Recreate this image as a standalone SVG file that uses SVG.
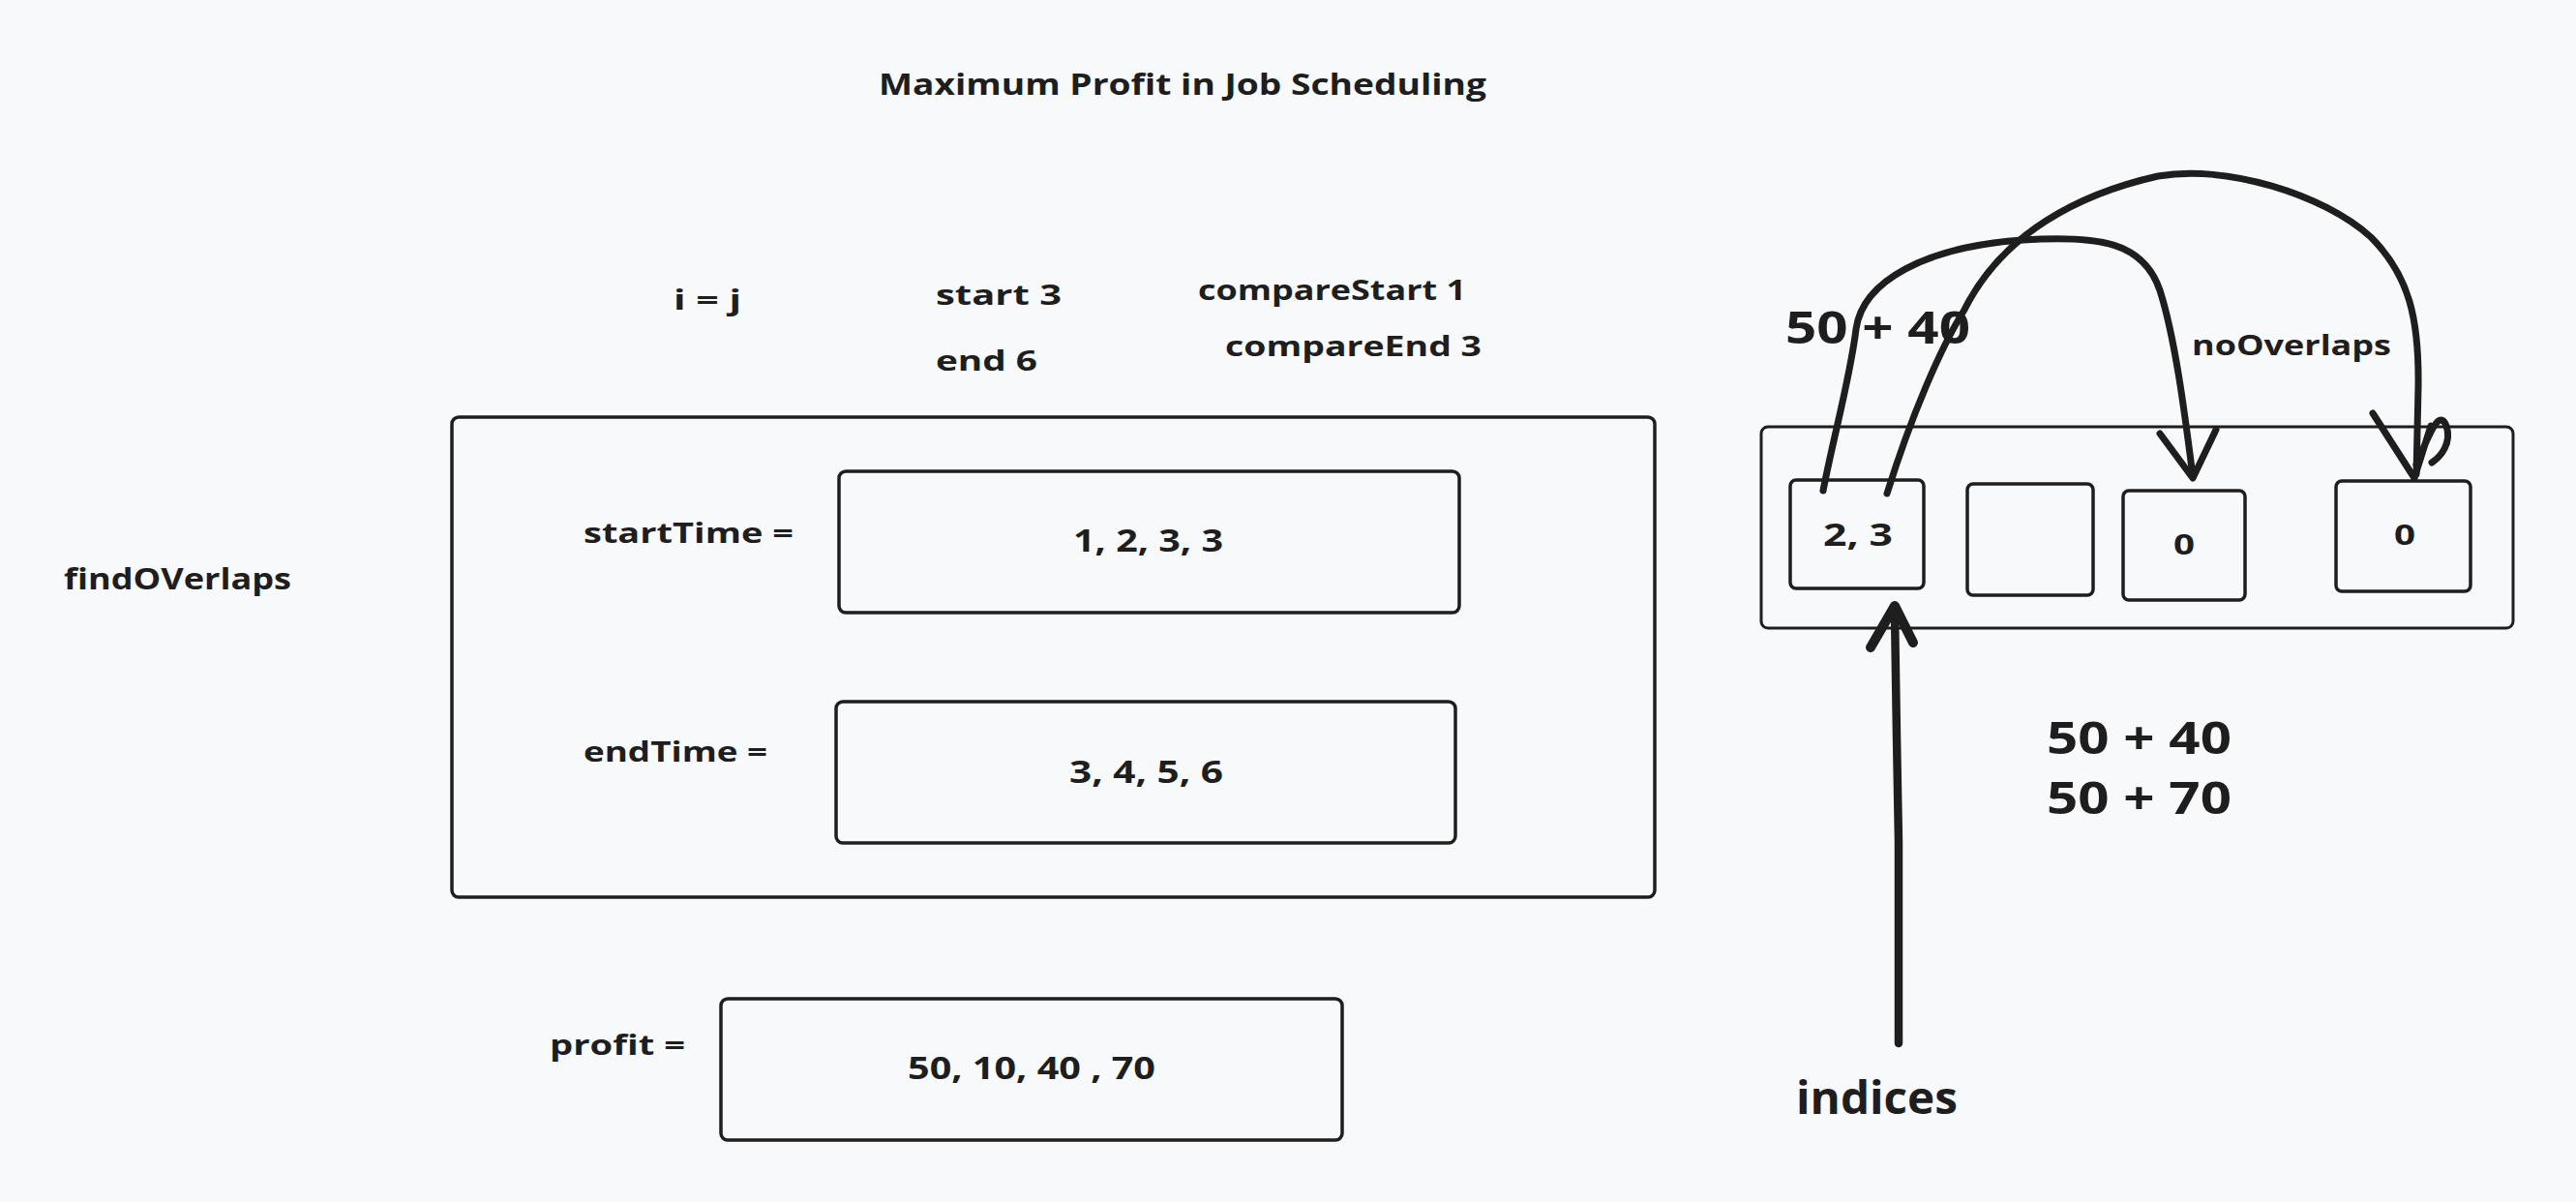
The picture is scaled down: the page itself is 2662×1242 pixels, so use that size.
<svg xmlns="http://www.w3.org/2000/svg" width="2662" height="1242" viewBox="0 0 2662 1242">
<style>
.t{font-family:"Open Sans","Liberation Sans",sans-serif;font-weight:700;fill:#1e1e1e}
.box{fill:none;stroke:#1e1e1e;stroke-width:3.5}
.arc{fill:none;stroke:#1e1e1e;stroke-width:7;stroke-linecap:round;stroke-linejoin:round}
.up{fill:none;stroke:#1e1e1e;stroke-width:8.5;stroke-linecap:round;stroke-linejoin:round}
</style>
<rect width="2662" height="1242" fill="#f8f9fa"/>
<g id="title"><text class="t" x="908" y="98" font-size="31" textLength="628" lengthAdjust="spacingAndGlyphs">Maximum Profit in Job Scheduling</text></g>
<g id="vars">
<text class="t" x="696" y="320" font-size="29" textLength="70" lengthAdjust="spacingAndGlyphs">i = j</text>
<text class="t" x="967" y="315" font-size="29" textLength="130" lengthAdjust="spacingAndGlyphs">start 3</text>
<text class="t" x="967" y="383" font-size="29" textLength="105" lengthAdjust="spacingAndGlyphs">end 6</text>
<text class="t" x="1238" y="310" font-size="29" textLength="277" lengthAdjust="spacingAndGlyphs">compareStart 1</text>
<text class="t" x="1266" y="368" font-size="29" textLength="265" lengthAdjust="spacingAndGlyphs">compareEnd 3</text>
</g>
<g id="findOverlaps"><text class="t" x="66" y="609" font-size="31" textLength="235" lengthAdjust="spacingAndGlyphs">findOVerlaps</text></g>
<g id="container"><rect class="box" x="467" y="431" width="1243" height="496" rx="7"/></g>
<g id="startTime">
<text class="t" x="603" y="561" font-size="29" textLength="217" lengthAdjust="spacingAndGlyphs">startTime =</text>
<rect class="box" x="867" y="487" width="641" height="146" rx="7"/>
<text class="t" x="1109" y="570" font-size="33" textLength="155" lengthAdjust="spacingAndGlyphs">1, 2, 3, 3</text>
</g>
<g id="endTime">
<text class="t" x="603" y="787" font-size="29" textLength="190" lengthAdjust="spacingAndGlyphs">endTime =</text>
<rect class="box" x="864" y="725" width="640" height="146" rx="7"/>
<text class="t" x="1105" y="809" font-size="33" textLength="159" lengthAdjust="spacingAndGlyphs">3, 4, 5, 6</text>
</g>
<g id="profit">
<text class="t" x="568" y="1090" font-size="29" textLength="140" lengthAdjust="spacingAndGlyphs">profit =</text>
<rect class="box" x="745" y="1032" width="642" height="146" rx="7"/>
<text class="t" x="938" y="1115" font-size="33" textLength="256" lengthAdjust="spacingAndGlyphs">50, 10, 40 , 70</text>
</g>
<g id="array"><rect class="box" x="1820" y="441" width="777" height="208" rx="7" style="stroke-width:3"/></g>
<g id="cell0"><rect class="box" x="1850" y="496" width="138" height="112" rx="6"/>
<text class="t" x="1884" y="564" font-size="32" textLength="72" lengthAdjust="spacingAndGlyphs">2, 3</text></g>
<g id="cell1"><rect class="box" x="2033" y="500" width="130" height="115" rx="6"/></g>
<g id="cell2"><rect class="box" x="2194" y="507" width="126" height="113" rx="6"/>
<text class="t" x="2246" y="573" font-size="28" textLength="22" lengthAdjust="spacingAndGlyphs">0</text></g>
<g id="cell3"><rect class="box" x="2414" y="497" width="139" height="114" rx="6"/>
<text class="t" x="2474" y="563" font-size="28" textLength="22" lengthAdjust="spacingAndGlyphs">0</text></g>
<g id="labels">
<text class="t" x="1845" y="355" font-size="46" textLength="191" lengthAdjust="spacingAndGlyphs">50 + 40</text>
<text class="t" x="2265" y="367" font-size="29" textLength="206" lengthAdjust="spacingAndGlyphs">noOverlaps</text>
<text class="t" x="2115" y="779" font-size="46" textLength="191" lengthAdjust="spacingAndGlyphs">50 + 40</text>
<text class="t" x="2115" y="841" font-size="46" textLength="191" lengthAdjust="spacingAndGlyphs">50 + 70</text>
<text class="t" x="1856" y="1151" font-size="46" textLength="167" lengthAdjust="spacingAndGlyphs">indices</text>
</g>
<g id="connectors">
<path class="arc" d="M1884,507 C1895,450 1912,390 1918,340 C1925,290 1990,255 2090,248 C2170,243 2215,250 2232,300 C2248,350 2258,430 2266,492"/>
<path class="arc" d="M2232,448 L2266,494 L2290,444"/>
<path class="arc" d="M1950,510 C1975,430 2005,360 2030,320 C2070,240 2150,200 2230,182 C2300,170 2400,200 2450,245 C2490,285 2500,330 2499,400 L2497,490"/>
<path class="arc" d="M2452,427 L2495,494 L2512,440 M2497,480 C2508,455 2520,420 2528,440 C2534,458 2522,472 2513,478"/>
<path class="up" d="M1962,1078 L1962,870 L1960,760 L1958,632"/>
<path class="up" d="M1933,669 L1958,626 L1977,664" style="stroke-width:10"/>
</g>
</svg>
